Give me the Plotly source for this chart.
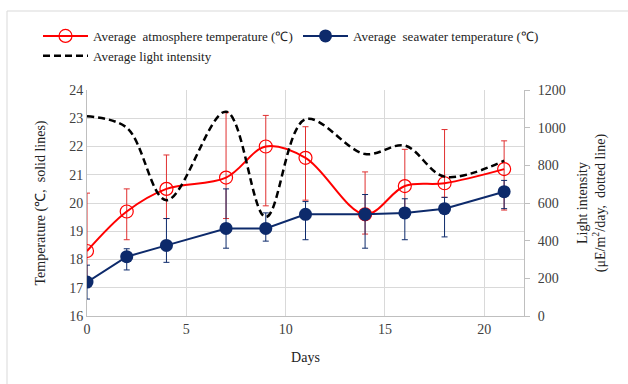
import plotly.graph_objects as go

days = [0, 2, 4, 7, 9, 11, 14, 16, 18, 21]
atmos_temp = [18.3, 19.7, 20.5, 20.9, 22.0, 21.6, 19.6, 20.6, 20.7, 21.2]
atmos_err_plus = [2.05, 0.8, 1.2, 2.3, 1.1, 1.1, 1.5, 1.3, 1.9, 1.0]
atmos_err_minus = [1.0, 1.0, 1.05, 1.45, 2.1, 1.5, 0.7, 1.0, 0.5, 1.45]
sea_temp = [17.2, 18.1, 18.5, 19.1, 19.1, 19.6, 19.6, 19.65, 19.8, 20.4]
sea_err_plus = [0.6, 0.28, 0.95, 1.4, 0.55, 0.45, 0.7, 0.5, 0.4, 0.4]
sea_err_minus = [0.6, 0.47, 0.6, 0.7, 0.45, 0.9, 1.2, 0.95, 1.0, 0.6]
light = [1060, 1000, 615, 1085, 525, 1045, 860, 905, 740, 825]

FONT = "Liberation Serif"
RED = "#FF0000"
NAVY = "#0D2A6B"

W, H = 628, 384
L, R, T, B = 87, 524, 90, 316

def px(x):
    return (x - L) / (R - L)

def py(y):
    return (B - y) / (B - T)

fig = go.Figure()

fig.add_trace(go.Scatter(
    x=days, y=atmos_temp, name="Average  atmosphere temperature (℃)",
    mode="lines+markers",
    line=dict(color=RED, width=2, shape="spline", smoothing=1),
    marker=dict(symbol="circle-open", size=13, color=RED, line=dict(width=1.2)),
    error_y=dict(type="data", symmetric=False, array=atmos_err_plus,
                 arrayminus=atmos_err_minus, color="#E03030", thickness=1, width=3),
))
fig.add_trace(go.Scatter(
    x=days, y=sea_temp, name="Average  seawater temperature (℃)",
    mode="lines+markers",
    line=dict(color=NAVY, width=2),
    marker=dict(symbol="circle", size=13, color=NAVY),
    error_y=dict(type="data", symmetric=False, array=sea_err_plus,
                 arrayminus=sea_err_minus, color=NAVY, thickness=1, width=3),
))
fig.add_trace(go.Scatter(
    x=days, y=light, name="Average light intensity", yaxis="y2",
    mode="lines",
    line=dict(color="black", width=2.5, dash="7px,4px", shape="spline", smoothing=1),
))

fig.update_layout(
    width=W, height=H,
    margin=dict(l=L, r=W - R, t=T, b=H - B),
    paper_bgcolor="white", plot_bgcolor="white",
    font=dict(family=FONT, size=14, color="#333333"),
    showlegend=True,
    legend=dict(
        orientation="h", x=px(38), y=py(21), xanchor="left", yanchor="top",
        font=dict(family=FONT, size=13, color="#222222"),
        entrywidth=200, tracegroupgap=0, itemwidth=45,
        bgcolor="rgba(0,0,0,0)",
    ),
    xaxis=dict(
        range=[0, 22], dtick=5, tick0=0, showgrid=True, gridcolor="#D9D9D9",
        showline=True, linecolor="#BFBFBF", linewidth=1, zeroline=False,
        ticks="", tickfont=dict(family=FONT, size=14, color="#404040"),
        title=dict(text="Days", font=dict(family=FONT, size=14, color="#222222"), standoff=16),
    ),
    yaxis=dict(
        range=[16, 24], dtick=1, showgrid=True, gridcolor="#D9D9D9",
        showline=True, linecolor="#BFBFBF", zeroline=False, ticks="",
        tickfont=dict(family=FONT, size=14, color="#404040"),
        title=dict(text="Temperature (℃,  solid lines)",
                   font=dict(family=FONT, size=14, color="#222222"), standoff=20),
    ),
    yaxis2=dict(
        range=[0, 1200], dtick=200, overlaying="y", side="right", showgrid=False,
        showline=True, linecolor="#BFBFBF", zeroline=False,
        ticks="outside", ticklen=5, tickcolor="#BFBFBF", ticklabelstandoff=5,
        tickfont=dict(family=FONT, size=14, color="#404040"),
        title=dict(text="Light intensity<br>(μE/m<sup>2</sup>/day,  dotted line)",
                   font=dict(family=FONT, size=14, color="#222222"), standoff=12),
    ),
)

# outer chart border (top and left visible)
fig.add_shape(type="rect", xref="paper", yref="paper",
              x0=px(7), x1=px(W + 20), y0=py(H + 20), y1=py(11),
              line=dict(color="#D9D9D9", width=1), layer="below")

fig.write_html("out.html")
